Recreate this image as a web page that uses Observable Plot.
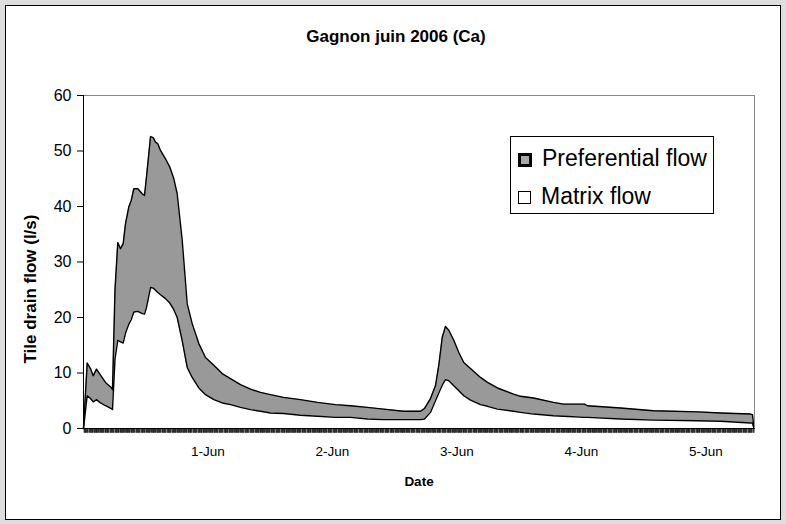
<!DOCTYPE html>
<html><head><meta charset="utf-8">
<script src="https://cdn.jsdelivr.net/npm/d3@7"></script>
<script src="https://cdn.jsdelivr.net/npm/@observablehq/plot@0.6"></script>
<style>
body{margin:0;background:#dedede;width:786px;height:524px;overflow:hidden;position:relative;font-family:"Liberation Sans",Arial,sans-serif}
#frame{position:absolute;left:5px;top:5px;width:776px;height:515px;border:1px solid #000;background:#fff;box-sizing:border-box}
#title{position:absolute;left:0;width:792px;top:27px;text-align:center;font-weight:bold;font-size:17px;line-height:20px;color:#000}
#chart{position:absolute;left:0;top:60px}
#legend{position:absolute;left:510px;top:136px;width:204px;height:78px;border:1px solid #000;box-sizing:border-box;background:#fff;font-size:23px;color:#000}
.item{position:absolute;left:7px;height:26px;line-height:26px;white-space:nowrap}
.sw{display:inline-block;vertical-align:middle;margin-right:10px;box-sizing:border-box}
</style></head>
<body>
<div id="frame"></div>
<div id="title"></div>
<div id="chart"></div>
<div id="legend"></div>
<script>
const titleText = "Gagnon juin 2006 (Ca)";
const yTitle = "Tile drain flow (l/s)";
const xTitle = "Date";
const seriesNames = ["Preferential flow", "Matrix flow"];
const yTicks = [0, 10, 20, 30, 40, 50, 60];
const dayTicks = ["2006-06-01", "2006-06-02", "2006-06-03", "2006-06-04", "2006-06-05"];
// hours since 31 May 2006 00:00
const hours = [0,0.71,1.35,1.87,2.51,3.28,4.24,5.34,5.59,6.07,6.61,7.13,7.65,8.10,8.73,9.20,9.70,10.47,11.32,11.76,12.14,12.92,13.44,13.88,14.32,14.84,15.81,16.64,17.41,18.06,19.03,19.99,20.95,22.23,23.52,25.12,26.74,28.34,30.26,32.19,34.12,36.05,38.55,41.83,45.11,48.58,51.47,54.75,57.83,61.69,64.96,65.73,66.89,67.85,68.49,69.15,69.78,70.42,71.38,72.35,73.31,74.60,76.53,77.88,79.81,82.89,84.24,86.75,90.60,92.53,96.58,97.16,103.52,109.88,118.36,122.80,128.58,128.96,129.25];
// total flow (top of the preferential band)
const totalFlow = [0,11.8,10.8,9.5,10.7,9.6,8.3,7.4,7.0,25,33.5,32.4,33.3,36.9,39.9,41.1,43.2,43.2,42.3,42.0,45.3,52.6,52.4,51.6,51.3,50.1,48.6,47.1,45.0,42.3,33.9,22.5,18.9,15.3,12.8,11.4,9.9,9.0,7.9,7.1,6.5,6.1,5.6,5.2,4.7,4.3,4.1,3.8,3.5,3.1,3.1,3.6,5.4,7.7,11.4,16.4,18.4,17.7,15.9,13.7,11.9,10.8,9.2,8.3,7.3,6.2,5.8,5.5,4.7,4.4,4.4,4.1,3.7,3.2,3.0,2.8,2.6,2.5,0];
// matrix flow
const matrixFlow = [0,5.9,5.4,4.8,5.2,4.6,4.1,3.6,3.4,12.5,15.9,15.6,15.4,17.2,18.8,19.6,21.0,21.1,20.7,20.6,21.8,25.4,25.3,24.9,24.5,24.1,23.4,22.6,21.4,20.0,15.8,11.0,9.2,7.3,6.1,5.2,4.6,4.3,3.8,3.4,3.1,2.8,2.7,2.4,2.2,2.0,2.0,1.7,1.6,1.6,1.6,1.7,2.9,5.0,6.4,7.8,8.8,8.6,7.7,6.8,5.9,5.1,4.3,4.0,3.5,3.1,2.9,2.6,2.3,2.2,2.0,2.0,1.7,1.5,1.4,1.3,1.0,1.0,0];
const endHours = 129.35;

const start = Date.UTC(2006, 4, 31);
const toDate = h => new Date(start + h * 3600e3);
const data = hours.map((h, i) => ({t: toDate(h), total: totalFlow[i], matrix: matrixFlow[i]}));
const xDomain = [toDate(0), toDate(endHours)];
const minor = d3.range(0, Math.floor(endHours * 8) + 1).filter(q => q % 8 !== 0).map(q => toDate(q / 8));
const dayDates = dayTicks.map(s => new Date(s + "T00:00:00Z"));
const fmt = d3.utcFormat("%-d-%b");

document.getElementById("title").textContent = titleText;

const chart = Plot.plot({
  width: 786, height: 440,
  marginLeft: 83, marginRight: 32, marginTop: 35, marginBottom: 72,
  style: {fontFamily: '"Liberation Sans", Arial, sans-serif', background: "transparent", color: "#000"},
  x: {type: "utc", domain: xDomain},
  y: {domain: [0, 60]},
  marks: [
    Plot.areaY(data, {x: "t", y1: "matrix", y2: "total", fill: "#999999", curve: "linear"}),
    Plot.lineY(data, {x: "t", y: "total", stroke: "#000", strokeWidth: 1.4}),
    Plot.lineY(data, {x: "t", y: "matrix", stroke: "#000", strokeWidth: 1.4}),
    Plot.ruleY([60], {stroke: "#888", strokeWidth: 1}),
    Plot.ruleX([xDomain[1]], {y1: 0, y2: 60, stroke: "#888", strokeWidth: 1}),
    Plot.ruleX(minor, {x: d => d, y1: 0, y2: -0.85, stroke: "#222", strokeWidth: 1}),
    Plot.ruleX([xDomain[0]], {y1: 0, y2: 60, stroke: "#000", strokeWidth: 1}),
    Plot.ruleY([0], {stroke: "#000", strokeWidth: 1}),
    Plot.axisY({ticks: yTicks, tickSize: 6, tickPadding: 6, fontSize: 16, label: null, tickFormat: d => String(d)}),
    Plot.axisX({ticks: dayDates, tickSize: 0, tickPadding: 18, fontSize: 13.5, label: null, tickFormat: fmt}),
    Plot.text([yTitle], {frameAnchor: "left", dx: -53, dy: 27, rotate: -90, textAnchor: "middle", fontWeight: "bold", fontSize: 17, text: d => d}),
    Plot.text([xTitle], {frameAnchor: "bottom", dy: 57, fontWeight: "bold", fontSize: 13.5, text: d => d})
  ]
});
document.getElementById("chart").appendChild(chart);

const legend = document.getElementById("legend");
const swStyles = [
  "width:14px;height:14px;background:#a6a6a6;border:3px solid #000",
  "width:13px;height:13px;background:#fff;border:1px solid #000"
];
const tops = [8, 46];
seriesNames.forEach((name, i) => {
  const it = document.createElement("div");
  it.className = "item";
  it.style.top = tops[i] + "px";
  const sw = document.createElement("span");
  sw.className = "sw";
  sw.style.cssText = swStyles[i];
  it.appendChild(sw);
  it.appendChild(document.createTextNode(name));
  legend.appendChild(it);
});
</script>
</body></html>
